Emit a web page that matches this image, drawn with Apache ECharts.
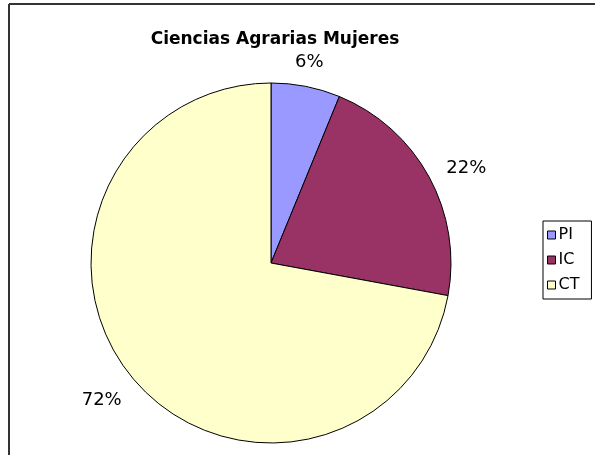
<!DOCTYPE html>
<html>
<head>
<meta charset="utf-8">
<script src="https://cdn.jsdelivr.net/npm/echarts@6/dist/echarts.min.js"></script>
<style>
  html, body { margin: 0; padding: 0; background: #fff; }
  #chart { width: 595px; height: 455px; }
</style>
</head>
<body>
<div id="chart"></div>
<script>
// categories and shares (percent)
const categories = ["PI", "IC", "CT"];
const shares = [6.2, 21.7, 72.1];
const colors = ["#9999FF", "#993366", "#FFFFCC"];

document.addEventListener("DOMContentLoaded", function () {
  const chart = echarts.init(document.getElementById("chart"), null, { renderer: "canvas" });
  const font = "DejaVu Sans";

  const pieData = categories.map((name, i) => ({
    name: name,
    value: shares[i],
    itemStyle: { color: colors[i] },
  }));

  // small nudge for the first label, which sits closer to the pie in the original
  const labelOffsets = [[-4, 14], [3, 10], [-1, -3]];

  const option = {
    animation: false,
    backgroundColor: "#fff",
    title: {
      text: "Ciencias Agrarias Mujeres",
      left: 270,
      top: 26,
      textAlign: "center",
      textStyle: { fontFamily: font, fontSize: 17, fontWeight: "bold", color: "#000" },
    },
    legend: {
      orient: "vertical",
      left: 543,
      top: 221,
      width: 50,
      padding: [6, 12, 6, 4],
      itemGap: 9,
      itemWidth: 8,
      itemHeight: 8,
      icon: "rect",
      borderColor: "#000",
      borderWidth: 1,
      data: categories,
      itemStyle: { borderColor: "#000", borderWidth: 1 },
      textStyle: { fontFamily: font, fontSize: 16, color: "#000", padding: [0, 0, 0, -2] },
    },
    graphic: [
      {
        type: "line",
        shape: { x1: 9, y1: 4, x2: 600, y2: 4 },
        style: { stroke: "#333", lineWidth: 2 },
        silent: true,
        z: 100,
      },
      {
        type: "line",
        shape: { x1: 9, y1: 4, x2: 9, y2: 460 },
        style: { stroke: "#333", lineWidth: 2 },
        silent: true,
        z: 100,
      },
    ],
    series: [
      {
        type: "pie",
        center: [271, 263],
        radius: 180,
        startAngle: 90,
        clockwise: true,
        data: pieData,
        label: { show: false },
        labelLine: { show: false },
        itemStyle: { borderColor: "#000", borderWidth: 1 },
        emphasis: { disabled: true },
      },
      {
        // transparent ring that only carries the percentage labels
        type: "pie",
        center: [271, 263],
        radius: [200, 232],
        startAngle: 90,
        clockwise: true,
        silent: true,
        data: pieData.map((d, i) => ({
          name: d.name,
          value: d.value,
          itemStyle: { color: "transparent" },
          label: { offset: labelOffsets[i] },
        })),
        label: {
          show: true,
          position: "inside",
          formatter: (p) => Math.round(p.value) + "%",
          fontFamily: font,
          fontSize: 18,
          color: "#000",
        },
        labelLine: { show: false },
        emphasis: { disabled: true },
      },
    ],
  };
  chart.setOption(option);
});
</script>
</body>
</html>
